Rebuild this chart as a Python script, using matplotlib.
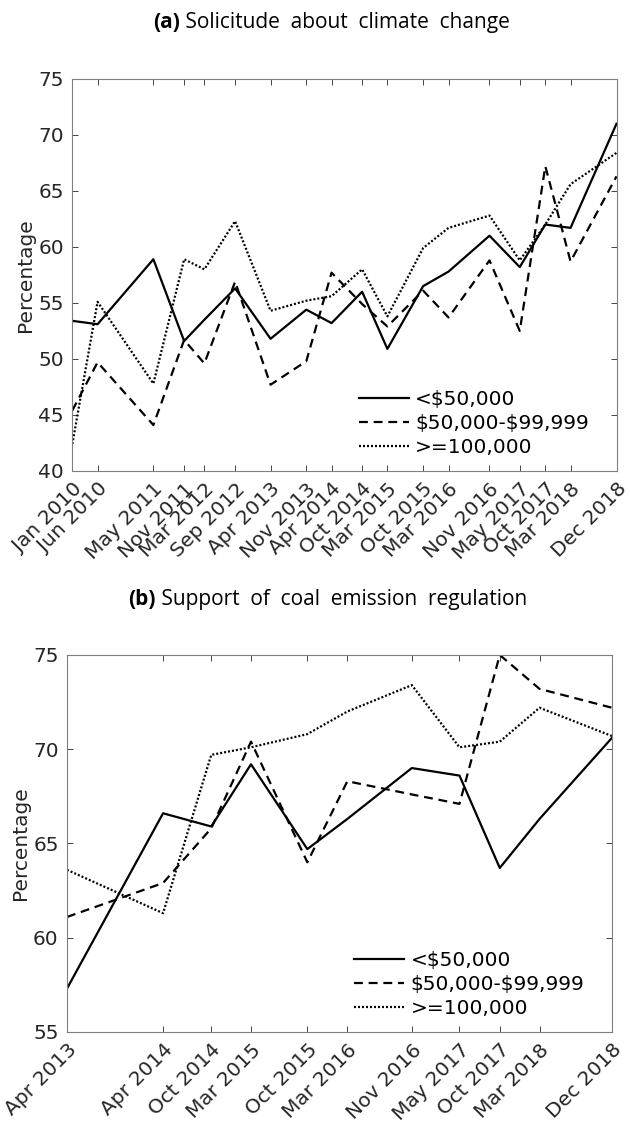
import datetime as dt
import matplotlib
matplotlib.use("Agg")
import matplotlib.pyplot as plt
import matplotlib.dates as mdates

# (a) Solicitude about climate change
dates_a = ["2010-01", "2010-06", "2011-05", "2011-11", "2012-03", "2012-09",
           "2013-04", "2013-11", "2014-04", "2014-10", "2015-03", "2015-10",
           "2016-03", "2016-11", "2017-05", "2017-10", "2018-03", "2018-12"]
low_a = [53.4, 53.1, 58.9, 51.6, 53.5, 56.3, 51.8, 54.4, 53.2, 56.0, 50.9, 56.5,
         57.8, 61.0, 58.2, 62.0, 61.7, 71.0]
mid_a = [45.4, 49.7, 44.1, 51.7, 49.6, 56.9, 47.7, 49.8, 57.7, 54.9, 52.9, 56.1,
         53.7, 58.8, 52.5, 67.2, 58.7, 66.3]
high_a = [42.4, 55.1, 47.8, 58.9, 58.0, 62.3, 54.3, 55.2, 55.6, 58.0, 53.8, 59.9,
          61.7, 62.8, 58.8, 62.0, 65.6, 68.4]

# (b) Support of coal emission regulation
dates_b = ["2013-04", "2014-04", "2014-10", "2015-03", "2015-10", "2016-03",
           "2016-11", "2017-05", "2017-10", "2018-03", "2018-12"]
low_b = [57.3, 66.6, 65.9, 69.2, 64.7, 66.3, 69.0, 68.6, 63.7, 66.3, 70.6]
mid_b = [61.1, 62.9, 65.8, 70.4, 64.0, 68.3, 67.6, 67.1, 75.0, 73.2, 72.2]
high_b = [63.6, 61.3, 69.7, 70.1, 70.8, 72.0, 73.4, 70.1, 70.4, 72.2, 70.7]

labels = [r"<\$50,000", r"\$50,000-\$99,999", ">=100,000"]
styles = [dict(linestyle="-"), dict(dashes=(4, 2.6)), dict(dashes=(0.9, 0.9))]

ink = "#262626"
plt.rcParams["font.family"] = "DejaVu Sans"
fs = 14.5


def to_dates(strs):
    return [dt.datetime.strptime(s, "%Y-%m") for s in strs]


def draw(ax, dates, series, ylim):
    d = to_dates(dates)
    for vals, lab, st in zip(series, labels, styles):
        ax.plot(d, vals, color="black", lw=1.6, label=lab, **st)
    ax.set_xlim(d[0], d[-1])
    ax.set_ylim(*ylim)
    ax.set_yticks(range(ylim[0], ylim[1] + 1, 5))
    ax.set_xticks(d)
    ax.xaxis.set_major_formatter(mdates.DateFormatter("%b %Y"))
    plt.setp(ax.get_xticklabels(), rotation=45, ha="right", rotation_mode="anchor")
    ax.tick_params(direction="in", length=4, width=0.6, colors=ink,
                   top=True, right=True, labelsize=fs, pad=6)
    for s in ax.spines.values():
        s.set_color("#7f7f7f")
        s.set_linewidth(0.8)
    ax.set_ylabel("Percentage", color=ink, fontsize=fs, labelpad=2)
    ax.legend(loc="lower right", frameon=False, fontsize=fs, handlelength=2.5,
              handletextpad=0.3, labelspacing=0.25, borderaxespad=0.3,
              bbox_to_anchor=(0.975, 0.0))


fig = plt.figure(figsize=(6.3, 11.24), dpi=100)
ax1 = fig.add_axes([0.1148, 0.581, 0.8638, 0.3488])
ax2 = fig.add_axes([0.1063, 0.0819, 0.865, 0.3354])

draw(ax1, dates_a, [low_a, mid_a, high_a], (40, 75))
draw(ax2, dates_b, [low_b, mid_b, high_b], (55, 75))

tfont = "Open Sans"
tfs = 15
for x, y, tag, txt in [(0.243, 0.9804, "(a)", "Solicitude  about  climate  change"),
                       (0.204, 0.467, "(b)", "Support  of  coal  emission  regulation")]:
    t = fig.text(x, y, tag, fontfamily=tfont, fontweight="bold", fontsize=tfs,
                 ha="left", va="center", color="black")
    ax1.annotate(" " + txt, xy=(1, 0), xycoords=t, va="bottom", ha="left",
                 fontfamily=tfont, fontsize=tfs, color="black")

fig.savefig("out.png", dpi=100)
